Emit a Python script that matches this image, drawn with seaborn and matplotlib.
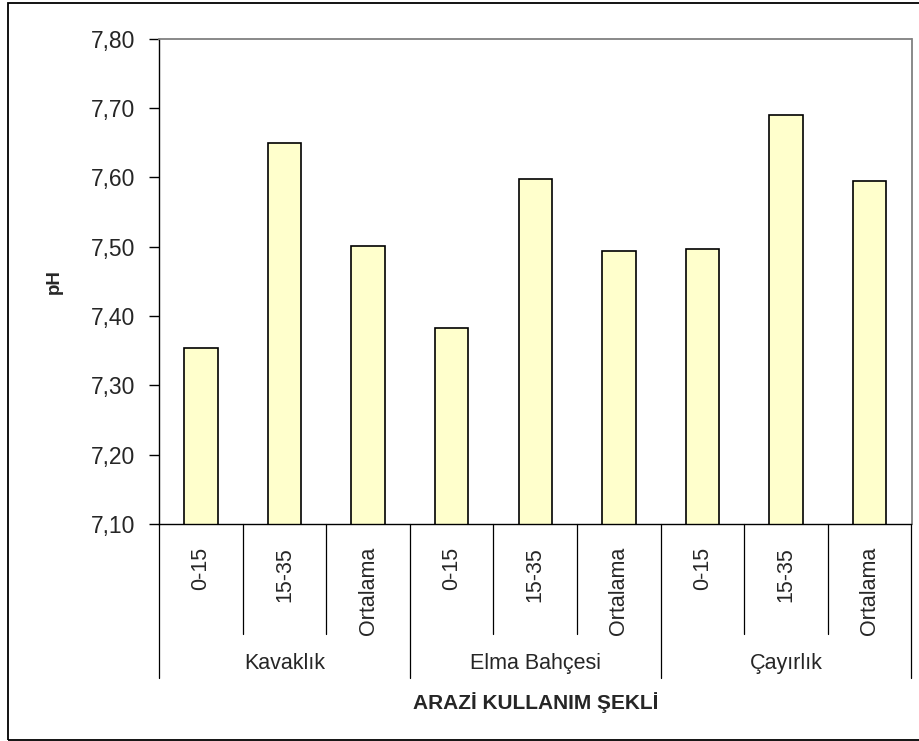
import matplotlib
matplotlib.use("Agg")
import matplotlib.pyplot as plt
import matplotlib.ticker as mticker
from matplotlib.patches import Rectangle
import pandas as pd
import seaborn as sns

# Land-use groups, sampling depths and mean soil pH
groups = ["Kavaklık", "Elma Bahçesi", "Çayırlık"]
depths = ["0-15", "15-35", "Ortalama"]
ph_kavaklik = [7.354, 7.649, 7.501]
ph_elma = [7.383, 7.598, 7.493]
ph_cayirlik = [7.497, 7.690, 7.594]
y_ticks = [7.10, 7.20, 7.30, 7.40, 7.50, 7.60, 7.70, 7.80]

rows = []
for g, vals in zip(groups, [ph_kavaklik, ph_elma, ph_cayirlik]):
    for d, v in zip(depths, vals):
        rows.append({"grup": g, "derinlik": d, "key": f"{g}|{d}", "pH": v})
df = pd.DataFrame(rows)

sns.set_theme(style="white")
plt.rcParams["font.family"] = ["Liberation Sans", "DejaVu Sans"]

W, H = 920, 741
fig = plt.figure(figsize=(W / 100, H / 100), dpi=100)
left, right, top, bottom = 159, 911.5, 38.5, 524
ax = fig.add_axes([left / W, 1 - bottom / H, (right - left) / W, (bottom - top) / H])

sns.barplot(data=df, x="key", y="pH", order=list(df["key"]), width=0.4,
            color="#FFFFCC", saturation=1, edgecolor="black", linewidth=1.2,
            ax=ax)

# bars start from the axis floor
ax.set_ylim(y_ticks[0], y_ticks[-1])
ax.set_xlim(-0.5, len(df) - 0.5)
ax.set_yticks(y_ticks)
ax.yaxis.set_major_formatter(mticker.FuncFormatter(lambda v, p: f"{v:.2f}".replace(".", ",")))
ax.tick_params(axis="y", direction="out", length=7, width=1, color="black",
               pad=10, labelsize=16.5, left=True)
ax.set_xticks(range(len(df)))
ax.set_xticklabels(df["derinlik"], rotation=90, fontsize=15.5, va="top")
ax.tick_params(axis="x", length=0, pad=16.5)

for side in ["top", "right"]:
    ax.spines[side].set_color("#808080")
    ax.spines[side].set_linewidth(1.3)
for side in ["left", "bottom"]:
    ax.spines[side].set_color("black")
    ax.spines[side].set_linewidth(1.0)

ax.set_xlabel("")
ax.set_ylabel("pH", fontsize=13.5, fontweight="bold", labelpad=20)

# category separators under the axis
trans = ax.get_xaxis_transform()
n = len(df)
for i in range(n + 1):
    xb = i - 0.5
    depth = -0.317 if i % 3 == 0 else -0.2266
    ax.plot([xb, xb], [0, depth], color="black", lw=0.9, transform=trans,
            clip_on=False)

# group names centred under each block
for gi, g in enumerate(groups):
    ax.text(gi * 3 + 1, -0.288, g, transform=trans, ha="center", va="center",
            fontsize=15.5)

ax.text(0.5, -0.3675, "ARAZİ KULLANIM ŞEKLİ", transform=ax.transAxes,
        ha="center", va="center", fontsize=15, fontweight="bold")

# chart frame
fig.add_artist(Rectangle((8 / W, 1 - 740 / H), 1.2, (737) / H,
                         transform=fig.transFigure, fill=False,
                         edgecolor="black", linewidth=1.3))

fig.savefig("out.png", dpi=100)
